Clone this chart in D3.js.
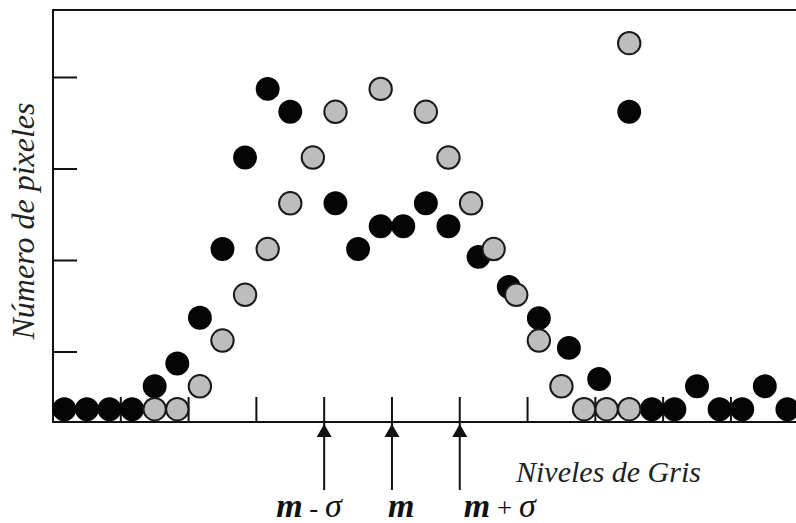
<!DOCTYPE html>
<html>
<head>
<meta charset="utf-8">
<script src="https://cdn.jsdelivr.net/npm/d3@7"></script>
<style>
  body { margin: 0; background: #fff; }
  svg { display: block; }
</style>
</head>
<body>
<div id="chart"></div>
<script>
// bin index (x) and pixel count (y) for the two histograms
const blackX = [0, 1, 2, 3, 4, 5, 6, 7, 8, 9, 10, 12, 13, 14, 15, 16, 17,
  18.33, 19.67, 21, 22.33, 23.67, 25, 26, 27, 28, 29, 30, 31, 32];
const blackY = [7.5, 7.5, 7.5, 7.5, 12.5, 17.5, 27.5, 42.5, 62.5, 77.5, 72.5, 52.5, 42.5, 47.5, 47.5, 52.5, 47.5,
  40.8, 34.2, 27.4, 20.9, 14.1, 72.5, 7.5, 7.5, 12.5, 7.5, 7.5, 12.5, 7.5];

const grayX = [4, 5, 6, 7, 8, 9, 10, 11, 12, 14, 16, 17, 18, 19, 20, 21, 22, 23, 24, 25, 25];
const grayY = [7.5, 7.5, 12.5, 22.5, 32.5, 42.5, 52.5, 62.5, 72.5, 77.5, 72.5, 62.5, 52.5, 42.5, 32.5, 22.5, 12.5, 7.5, 7.5, 7.5, 87.5];

const yTicks = [20, 40, 60, 80];
const xTicks = [2.5, 5.5, 8.5, 20.5, 23.5, 26.5, 29.5];
const markers = [
  { x: 11.5, label: 'm', op: ' - ', dx: -48 },
  { x: 14.5, label: 'm', op: '', dx: -4 },
  { x: 17.5, label: 'm', op: ' + ', dx: 4 }
];

const width = 796;
const height = 523;

const svg = d3.select('#chart')
  .append('svg')
  .attr('width', width)
  .attr('height', height);

const x = d3.scaleLinear().domain([-0.5, 32.38]).range([53, 796]);
const y = d3.scaleLinear().domain([4.7, 94.75]).range([422, 10]);

const r = 11.2;

// frame (left, top, bottom)
svg.append('path')
  .attr('d', `M${x.range()[1] + 2},${y.range()[1]}H${x.range()[0]}V${y.range()[0]}H${x.range()[1] + 2}`)
  .attr('fill', 'none')
  .attr('stroke', '#111')
  .attr('stroke-width', 2);

// y ticks pointing inward
svg.append('g')
  .selectAll('line')
  .data(yTicks)
  .join('line')
  .attr('x1', x.range()[0]).attr('x2', x.range()[0] + 24)
  .attr('y1', d => y(d)).attr('y2', d => y(d))
  .attr('stroke', '#111')
  .attr('stroke-width', 2);

// x ticks pointing up
svg.append('g')
  .selectAll('line')
  .data(xTicks.concat(markers.map(m => m.x)))
  .join('line')
  .attr('x1', d => x(d)).attr('x2', d => x(d))
  .attr('y1', y.range()[0]).attr('y2', y.range()[0] - 25)
  .attr('stroke', '#111')
  .attr('stroke-width', 2);

// arrows for m - sigma, m, m + sigma
const arrows = svg.append('g')
  .selectAll('g')
  .data(markers)
  .join('g')
  .attr('transform', d => `translate(${x(d.x)},${y.range()[0]})`);

arrows.append('line')
  .attr('y1', 0).attr('y2', 68)
  .attr('stroke', '#111')
  .attr('stroke-width', 2);

arrows.append('path')
  .attr('d', 'M0,2L-7.5,15L7.5,15Z')
  .attr('fill', '#111');

arrows.append('text')
  .attr('x', d => d.dx)
  .attr('y', 95)
  .attr('font-family', '"Liberation Serif", "Times New Roman", serif')
  .attr('font-style', 'italic')
  .attr('font-size', 34)
  .attr('fill', '#111')
  .each(function(d) {
    const t = d3.select(this);
    t.append('tspan').attr('font-weight', 'bold').text(d.label);
    if (d.op) {
      t.append('tspan').attr('font-style', 'normal').attr('font-size', 27).text(d.op);
      t.append('tspan').text('σ');
    }
  });

// dots: black first, gray on top
const blackData = blackX.map((v, i) => ({ x: v, y: blackY[i] }));
const grayData = grayX.map((v, i) => ({ x: v, y: grayY[i] }));

svg.append('g')
  .selectAll('circle')
  .data(blackData)
  .join('circle')
  .attr('cx', d => x(d.x))
  .attr('cy', d => y(d.y))
  .attr('r', r)
  .attr('fill', '#050505')
  .attr('stroke', '#050505')
  .attr('stroke-width', 1.5);

svg.append('g')
  .selectAll('circle')
  .data(grayData)
  .join('circle')
  .attr('cx', d => x(d.x))
  .attr('cy', d => y(d.y))
  .attr('r', r)
  .attr('fill', '#bdbdbd')
  .attr('stroke', '#1a1a1a')
  .attr('stroke-width', 2);

// axis titles
svg.append('text')
  .attr('transform', `translate(34,221) rotate(-90)`)
  .attr('text-anchor', 'middle')
  .attr('font-family', '"Liberation Serif", "Times New Roman", serif')
  .attr('font-style', 'italic')
  .attr('font-size', 32)
  .attr('fill', '#222')
  .text('Número de pixeles');

svg.append('text')
  .attr('x', 516)
  .attr('y', 482)
  .attr('font-family', '"Liberation Serif", "Times New Roman", serif')
  .attr('font-style', 'italic')
  .attr('font-size', 30)
  .attr('fill', '#222')
  .text('Niveles de Gris');
</script>
</body>
</html>
